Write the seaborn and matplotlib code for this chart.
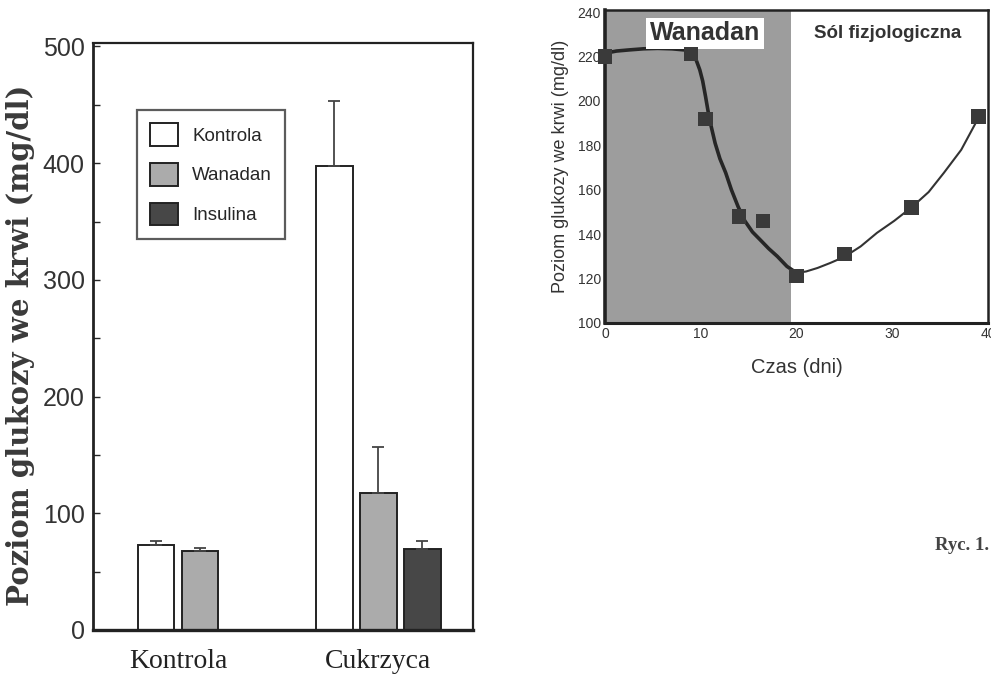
import matplotlib
matplotlib.use('Agg')
import matplotlib.pyplot as plt
import pandas as pd
import seaborn as sns

sns.set_style('white')
plt.rcParams['font.family'] = ['Liberation Sans', 'DejaVu Sans']
NARROW = ['Liberation Sans Narrow', 'Liberation Sans', 'DejaVu Sans']

# left panel: mean blood glucose (mg/dl)
categories = ['Kontrola', 'Cukrzyca']
treatments = ['Kontrola', 'Wanadan', 'Insulina']
bar_cat = ['Kontrola', 'Kontrola', 'Cukrzyca', 'Cukrzyca', 'Cukrzyca']
bar_grp = ['Kontrola', 'Wanadan', 'Kontrola', 'Wanadan', 'Insulina']
bar_mean = [73, 68, 398, 117, 69]
bar_err = [3, 2.5, 55, 40, 7]
bar_colors = ['#ffffff', '#ababab', '#474747']

# right panel: glucose over time
days = [0, 9, 10.5, 14, 16.5, 20, 25, 32, 39]
glucose = [220, 221, 192, 148, 146, 121, 131, 152, 193]
curve_days = [0, 1.2, 2.5, 4.0, 5.5, 7.0, 8.3, 9.0, 9.5, 9.9, 10.2, 10.5, 10.9,
              11.5, 12.0, 12.6, 13.2, 13.9, 14.6, 15.4, 16.2, 17.1, 18.0, 19.0,
              20.0, 21.0, 22.2, 23.5, 25.0, 26.7, 28.4, 30.2, 32.1, 33.8, 35.4,
              37.2, 38.9]
curve_glucose = [221.5, 222.5, 223, 223.5, 223.7, 223.5, 223, 221.5, 218.7, 214,
                 209, 202, 192, 181, 174, 167.7, 160, 152.4, 146, 141, 137.5,
                 133.5, 130, 125.5, 122.6, 123.2, 124.8, 127, 129.8, 134.5,
                 140.6, 146, 152.4, 159, 167.7, 178, 191.6]
shade_end = 19.4
split = curve_days.index(20.0)

df = pd.DataFrame({'grupa': bar_cat, 'leczenie': bar_grp,
                   'glukoza': bar_mean, 'sd': bar_err})

fig = plt.figure(figsize=(9.91, 6.78), dpi=100)

# ---- left: bar chart ----
ax = fig.add_axes([0.0938, 0.0708, 0.3835, 0.8658])
sns.barplot(data=df, x='grupa', y='glukoza', hue='leczenie', order=categories,
            hue_order=treatments, palette=bar_colors, errorbar=None,
            width=0.74, gap=0.16, edgecolor='#222222', linewidth=1.4,
            saturation=1, ax=ax)

# one-sided error bars on top of each bar
for cont, lvl in zip(ax.containers, treatments):
    sub = df[df['leczenie'] == lvl]
    for bar, (_, row) in zip(cont, sub.iterrows()):
        xc = bar.get_x() + bar.get_width() / 2
        ax.errorbar(xc, row['glukoza'], yerr=[[0], [row['sd']]], fmt='none',
                    ecolor='#444444', elinewidth=1.3, capsize=4, capthick=1.3)

ax.set_xlim(-0.60, 1.53)
ax.set_ylim(0, 503)
ax.set_yticks([0, 100, 200, 300, 400, 500])
ax.set_yticks([50, 150, 250, 350, 450], minor=True)
ax.tick_params(axis='y', which='both', direction='in', length=5, width=1,
               left=True, labelsize=18, labelcolor='#333333', pad=6)
ax.tick_params(axis='x', length=0, pad=14)

# category labels centred under the drawn bars
xt = []
for cat in categories:
    cs = []
    for cont, lvl in zip(ax.containers, treatments):
        sub = df[df['leczenie'] == lvl].reset_index(drop=True)
        for i, bar in enumerate(cont):
            if sub.loc[i, 'grupa'] == cat:
                cs.append(bar.get_x() + bar.get_width() / 2)
    xt.append(sum(cs) / len(cs))
ax.set_xticks(xt)
ax.set_xticklabels(categories, family=['Liberation Serif', 'DejaVu Serif'],
                   fontsize=20, color='#222222')
ax.set_xlabel('')
ax.set_ylabel('')
for s in ax.spines.values():
    s.set_color('#222222')
    s.set_linewidth(1.6)
ax.spines['bottom'].set_linewidth(2.4)
ax.spines['left'].set_linewidth(2.0)

h, l = ax.get_legend_handles_labels()
ax.legend(h, l, loc='upper left', bbox_to_anchor=(0.116, 0.886),
          borderaxespad=0, frameon=True, fancybox=False, edgecolor='#333333',
          prop={'family': NARROW, 'size': 13.5}, handlelength=1.5,
          handleheight=1.5, labelspacing=0.9, handletextpad=0.75,
          borderpad=0.7)
ax.get_legend().get_frame().set_linewidth(1.6)

fig.text(0.021, 0.49, 'Poziom glukozy we krwi (mg/dl)', rotation=90,
         ha='center', va='center', fontsize=21, fontweight='bold',
         family=['DejaVu Serif'], color='#3a3a3a')

# ---- right: time course ----
bx = fig.add_axes([0.6105, 0.5236, 0.3865, 0.4617])
bx.axvspan(0, shade_end, color='#9d9d9d', lw=0, zorder=0)
sns.lineplot(x=curve_days[:split + 1], y=curve_glucose[:split + 1], sort=False,
             color='#262626', lw=2.6, ax=bx)
sns.lineplot(x=curve_days[split:], y=curve_glucose[split:], sort=False,
             color='#333333', lw=1.5, ax=bx)
sns.scatterplot(x=days, y=glucose, marker='s', s=105, color='#3a3a3a',
                edgecolor='none', zorder=5, clip_on=False, ax=bx)
bx.set_xlim(0, 40)
bx.set_ylim(100, 241)
bx.set_xticks([0, 10, 20, 30, 40])
bx.set_yticks(range(100, 241, 20))
for lab in bx.get_xticklabels() + bx.get_yticklabels():
    lab.set_family(NARROW)
bx.tick_params(direction='in', length=3, labelsize=10, labelcolor='#333333',
               pad=3)
for s in bx.spines.values():
    s.set_color('#222222')
    s.set_linewidth(1.8)
bx.spines['left'].set_linewidth(2.6)
bx.spines['bottom'].set_linewidth(2.2)
bx.set_ylabel('Poziom glukozy we krwi (mg/dl)', family=NARROW, fontsize=13,
              color='#333333', labelpad=6)
bx.set_xlabel('Czas (dni)', family=NARROW, fontsize=14.5, color='#333333',
              labelpad=12)

bx.text(0.261, 0.926, 'Wanadan', transform=bx.transAxes, ha='center',
        va='center', fontsize=18, fontweight='bold', color='#333333',
        bbox=dict(facecolor='white', edgecolor='none', pad=2.5))
bx.text(0.739, 0.926, 'Sól fizjologiczna', transform=bx.transAxes,
        ha='center', va='center', fontsize=13.5, fontweight='bold',
        family=NARROW, color='#333333')

fig.text(0.971, 0.196, 'Ryc. 1.', ha='center', va='center', fontsize=13.5,
         fontweight='bold', family=['Liberation Serif', 'DejaVu Serif'],
         color='#444444')

fig.savefig('out.png', dpi=100)
